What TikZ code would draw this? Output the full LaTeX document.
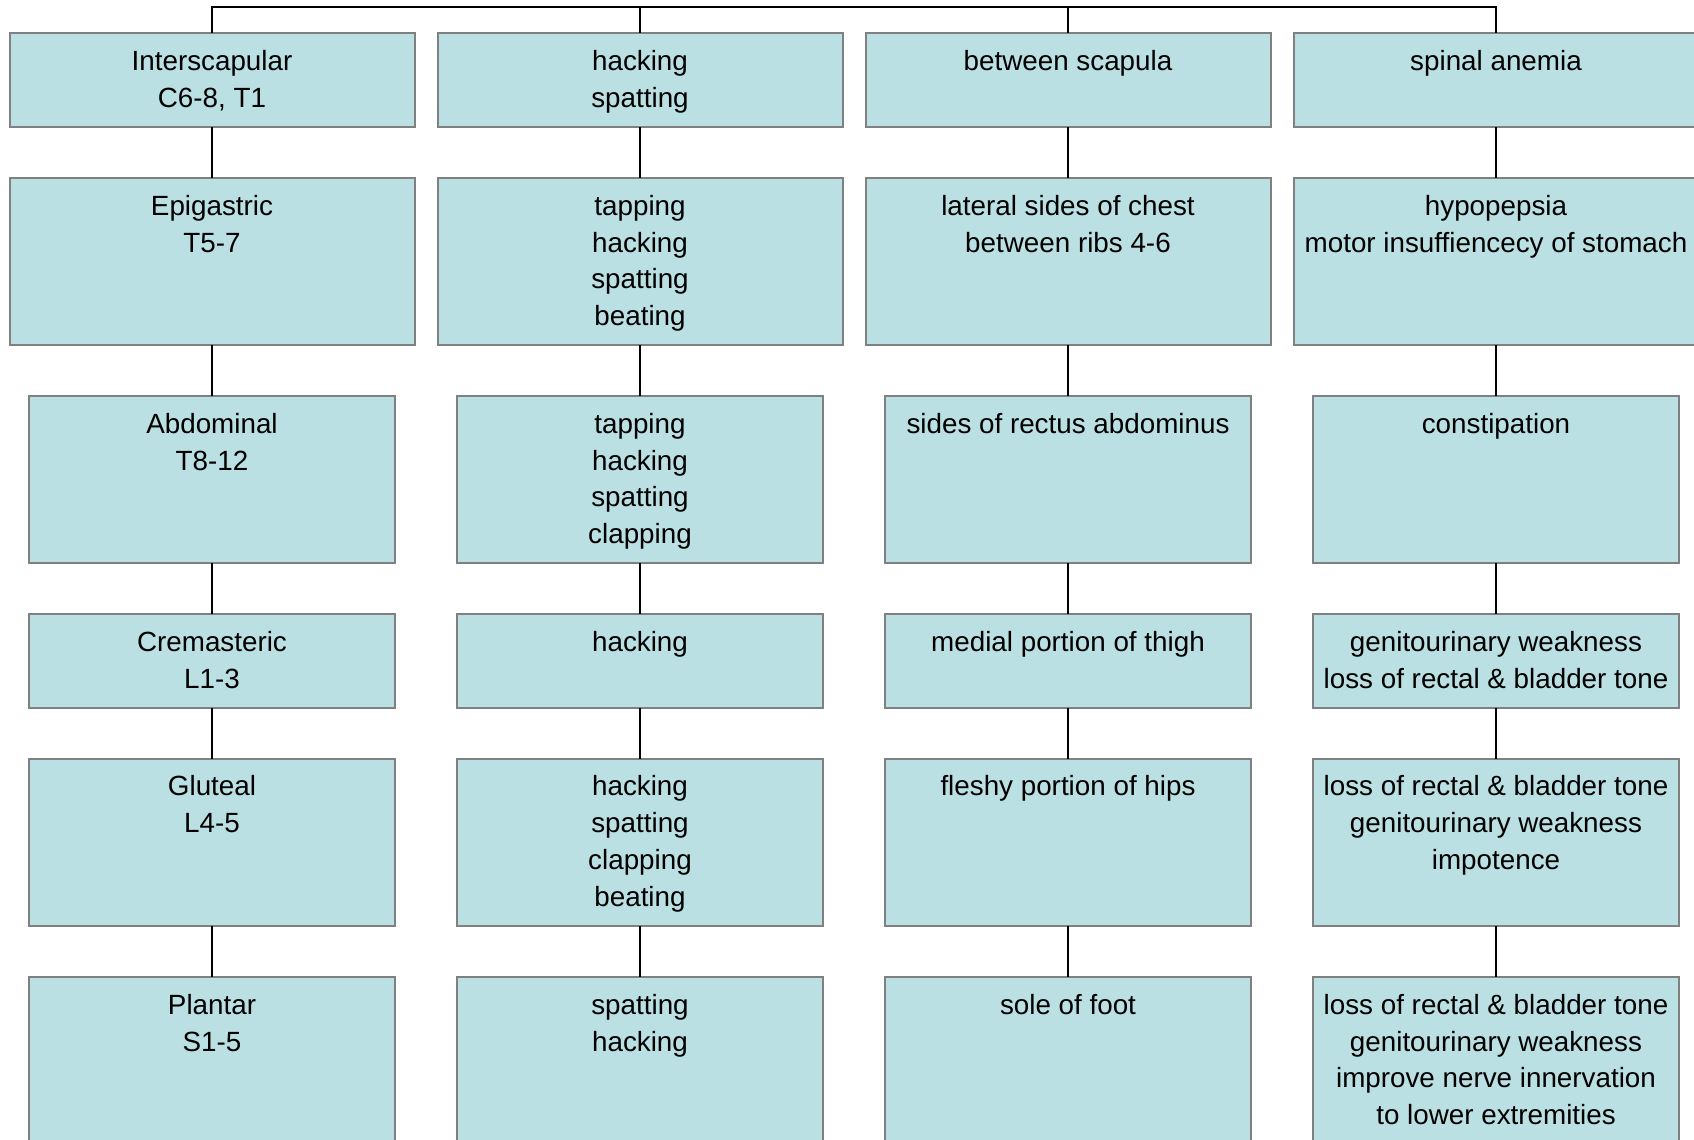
\documentclass[tikz,border=0pt]{standalone}
\usepackage{fontspec}
\setmainfont{Liberation Sans}
\definecolor{boxfill}{RGB}{187,224,227}
\definecolor{boxline}{RGB}{128,128,128}

% box contents: text sits at the top of a fixed-size box
\newcommand\cellbody[3]{\parbox[c][#2][t]{#1}{\centering
  \fontsize{13.9pt}{18.35pt}\selectfont\rule{0pt}{18.7pt}#3\par}}
\newcommand\wide[2]{\cellbody{202.5pt}{#1}{#2}}
\newcommand\narrow[2]{\cellbody{183pt}{#1}{#2}}

\tikzset{
  cell/.style={draw=boxline, fill=boxfill, line width=1pt, inner sep=0pt,
               outer sep=0pt, anchor=north},
  link/.style={draw=black, line width=1pt}
}

\begin{document}
\begin{tikzpicture}[x=0.5pt, y=-0.5pt]
\useasboundingbox (0,0) rectangle (1694,1140);
\begin{scope}
\clip (0,0) rectangle (1694,1140);

% column 1
\node[cell] (a1) at (212,33)  {\wide{47pt}{Interscapular\\C6-8, T1}};
\node[cell] (a2) at (212,178) {\wide{83.25pt}{Epigastric\\T5-7}};
\node[cell] (a3) at (212,396) {\narrow{83.5pt}{Abdominal\\T8-12}};
\node[cell] (a4) at (212,614) {\narrow{46.75pt}{Cremasteric\\L1-3}};
\node[cell] (a5) at (212,758.5) {\narrow{83.5pt}{Gluteal\\L4-5}};
\node[cell] (a6) at (212,977) {\narrow{83.5pt}{Plantar\\S1-5}};

% column 2
\node[cell] (b1) at (640,33)  {\wide{47pt}{hacking\\spatting}};
\node[cell] (b2) at (640,178) {\wide{83.25pt}{tapping\\hacking\\spatting\\beating}};
\node[cell] (b3) at (640,396) {\narrow{83.5pt}{tapping\\hacking\\spatting\\clapping}};
\node[cell] (b4) at (640,614) {\narrow{46.75pt}{hacking}};
\node[cell] (b5) at (640,758.5) {\narrow{83.5pt}{hacking\\spatting\\clapping\\beating}};
\node[cell] (b6) at (640,977) {\narrow{83.5pt}{spatting\\hacking}};

% column 3
\node[cell] (c1) at (1068,33)  {\wide{47pt}{between scapula}};
\node[cell] (c2) at (1068,178) {\wide{83.25pt}{lateral sides of chest\\between ribs 4-6}};
\node[cell] (c3) at (1068,396) {\narrow{83.5pt}{sides of rectus abdominus}};
\node[cell] (c4) at (1068,614) {\narrow{46.75pt}{medial portion of thigh}};
\node[cell] (c5) at (1068,758.5) {\narrow{83.5pt}{fleshy portion of hips}};
\node[cell] (c6) at (1068,977) {\narrow{83.5pt}{sole of foot}};

% column 4
\node[cell] (d1) at (1496,33)  {\wide{47pt}{spinal anemia}};
\node[cell] (d2) at (1496,178) {\wide{83.25pt}{hypopepsia\\motor insuffiencecy of stomach}};
\node[cell] (d3) at (1496,396) {\narrow{83.5pt}{constipation}};
\node[cell] (d4) at (1496,614) {\narrow{46.75pt}{genitourinary weakness\\loss of rectal \& bladder tone}};
\node[cell] (d5) at (1496,758.5) {\narrow{83.5pt}{loss of rectal \& bladder tone\\genitourinary weakness\\impotence}};
\node[cell] (d6) at (1496,977) {\narrow{83.5pt}{loss of rectal \& bladder tone\\genitourinary weakness\\improve nerve innervation\\to lower extremities}};

% top bar joining the four columns
\coordinate (bar) at (854,7);
\draw[link] (a1.north) -- (a1.north |- bar) -- (d1.north |- bar) -- (d1.north);
\draw[link] (b1.north) -- (b1.north |- bar);
\draw[link] (c1.north) -- (c1.north |- bar);

% vertical links inside each column
\foreach \col in {a,b,c,d}{
  \foreach \i/\j in {1/2,2/3,3/4,4/5,5/6}{
    \draw[link] (\col\i.south) -- (\col\j.north);
  }
}
\end{scope}
\end{tikzpicture}
\end{document}
